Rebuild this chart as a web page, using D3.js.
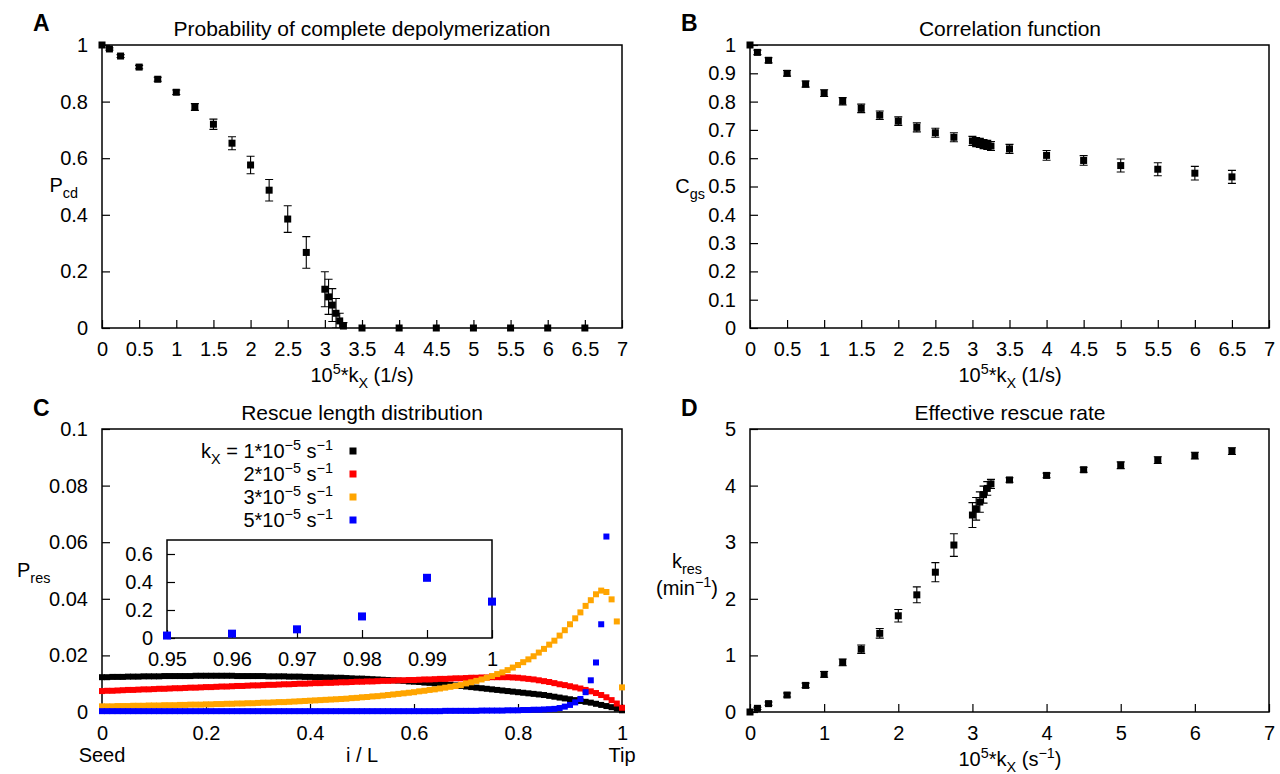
<!DOCTYPE html>
<html>
<head>
<meta charset="utf-8">
<script src="https://cdn.jsdelivr.net/npm/d3@7"></script>
<style>
  html, body { margin: 0; padding: 0; background: #fff; }
  svg { display: block; }
</style>
</head>
<body>
<svg id="fig" width="1280" height="774"></svg>
<script>
// ---------- data ----------
// rate constant k_X in units of 1e-5 1/s
const kX = [0, 0.1, 0.25, 0.5, 0.75, 1, 1.25, 1.5, 1.75, 2, 2.25, 2.5, 2.75,
            3, 3.05, 3.1, 3.15, 3.2, 3.25, 3.5, 4, 4.5, 5, 5.5, 6, 6.5];

// probability of complete depolymerization
const pCd    = [1.000, 0.986, 0.961, 0.922, 0.879, 0.833, 0.781, 0.720, 0.653, 0.576, 0.487, 0.385, 0.267,
                0.137, 0.110, 0.081, 0.052, 0.025, 0.007, 0, 0, 0, 0, 0, 0, 0];
const pCdErr = [0, 0.004, 0.005, 0.006, 0.007, 0.008, 0.012, 0.018, 0.023, 0.031, 0.038, 0.047, 0.056,
                0.062, 0.062, 0.058, 0.052, 0.027, 0.012, 0, 0, 0, 0, 0, 0, 0];

// correlation function
const cGs    = [1.000, 0.974, 0.946, 0.900, 0.862, 0.830, 0.801, 0.776, 0.752, 0.731, 0.709, 0.690, 0.674,
                0.661, 0.657, 0.654, 0.650, 0.647, 0.643, 0.633, 0.610, 0.592, 0.574, 0.561, 0.547, 0.534];
const cGsErr = [0, 0.008, 0.009, 0.010, 0.011, 0.012, 0.013, 0.015, 0.015, 0.015, 0.016, 0.016, 0.016,
                0.016, 0.016, 0.016, 0.016, 0.016, 0.016, 0.016, 0.017, 0.017, 0.023, 0.023, 0.024, 0.023];

// effective rescue rate (1/min)
const kRes    = [0, 0.065, 0.148, 0.30, 0.47, 0.665, 0.877, 1.11, 1.39, 1.70, 2.07, 2.47, 2.95,
                 3.48, 3.59, 3.71, 3.84, 3.95, 4.03, 4.10, 4.18, 4.28, 4.36, 4.45, 4.53, 4.61];
const kResErr = [0, 0.02, 0.03, 0.035, 0.04, 0.05, 0.06, 0.075, 0.085, 0.11, 0.14, 0.17, 0.20,
                 0.22, 0.20, 0.18, 0.15, 0.12, 0.08, 0.04, 0.04, 0.045, 0.06, 0.06, 0.06, 0.06];

// rescue position along the lattice, i / L, in 100 bins
const relPos = d3.range(101).map(i => i / 100);

const presK1 = [
  0.0123,0.0123,0.0124,0.0124,0.0124,0.0125,0.0125,0.0125,0.0126,0.0126,
  0.0126,0.0126,0.0127,0.0127,0.0127,0.0127,0.0127,0.0127,0.0128,0.0128,
  0.0128,0.0128,0.0128,0.0128,0.0128,0.0128,0.0127,0.0127,0.0127,0.0127,
  0.0127,0.0127,0.0126,0.0126,0.0126,0.0126,0.0125,0.0125,0.0125,0.0124,
  0.0124,0.0123,0.0123,0.0122,0.0122,0.0121,0.0121,0.0120,0.0119,0.0118,
  0.0118,0.0117,0.0116,0.0115,0.0114,0.0113,0.0112,0.0111,0.0110,0.0108,
  0.0107,0.0106,0.0104,0.0103,0.0101,0.0100,0.0098,0.0096,0.0094,0.0092,
  0.0090,0.0088,0.0086,0.0084,0.0082,0.0080,0.0078,0.0076,0.0074,0.0072,
  0.0070,0.0068,0.0066,0.0064,0.0062,0.0060,0.0057,0.0054,0.0051,0.0048,
  0.0045,0.0042,0.0039,0.0036,0.0033,0.0029,0.0025,0.0021,0.0017,0.0012,
  0.0006];
const presK2 = [
  0.0074,0.0075,0.0075,0.0076,0.0077,0.0078,0.0078,0.0079,0.0080,0.0080,
  0.0081,0.0082,0.0082,0.0083,0.0084,0.0084,0.0085,0.0086,0.0086,0.0087,
  0.0088,0.0088,0.0089,0.0090,0.0090,0.0091,0.0092,0.0092,0.0093,0.0094,
  0.0094,0.0095,0.0096,0.0096,0.0097,0.0098,0.0098,0.0099,0.0100,0.0100,
  0.0101,0.0102,0.0102,0.0103,0.0103,0.0104,0.0105,0.0105,0.0106,0.0107,
  0.0107,0.0108,0.0108,0.0109,0.0110,0.0110,0.0111,0.0112,0.0112,0.0113,
  0.0113,0.0114,0.0115,0.0115,0.0116,0.0117,0.0117,0.0118,0.0119,0.0119,
  0.0120,0.0121,0.0121,0.0122,0.0122,0.0123,0.0123,0.0123,0.0123,0.0122,
  0.0121,0.0119,0.0117,0.0115,0.0112,0.0109,0.0106,0.0102,0.0098,0.0095,
  0.0091,0.0087,0.0083,0.0078,0.0073,0.0067,0.0060,0.0052,0.0042,0.0030,
  0.0015];
const presK3 = [
  0.0020,0.0020,0.0020,0.0021,0.0021,0.0021,0.0022,0.0022,0.0022,0.0023,
  0.0023,0.0023,0.0024,0.0024,0.0024,0.0025,0.0025,0.0026,0.0026,0.0026,
  0.0027,0.0027,0.0028,0.0028,0.0029,0.0029,0.0030,0.0030,0.0031,0.0031,
  0.0032,0.0033,0.0033,0.0034,0.0035,0.0035,0.0036,0.0037,0.0038,0.0039,
  0.0040,0.0041,0.0042,0.0043,0.0044,0.0045,0.0046,0.0047,0.0049,0.0050,
  0.0052,0.0053,0.0055,0.0056,0.0058,0.0060,0.0062,0.0064,0.0066,0.0068,
  0.0070,0.0073,0.0075,0.0078,0.0080,0.0083,0.0086,0.0089,0.0092,0.0095,
  0.0101,0.0105,0.0110,0.0115,0.0121,0.0127,0.0134,0.0140,0.0148,0.0157,
  0.0166,0.0176,0.0186,0.0197,0.0210,0.0223,0.0238,0.0252,0.0270,0.0289,
  0.0310,0.0331,0.0352,0.0375,0.0395,0.0416,0.0429,0.0424,0.0398,0.0320,
  0.0087];
const presK5 = [
  0.0003,0.0003,0.0003,0.0003,0.0003,0.0003,0.0003,0.0003,0.0003,0.0003,
  0.0003,0.0003,0.0003,0.0003,0.0003,0.0003,0.0003,0.0003,0.0003,0.0003,
  0.0003,0.0003,0.0003,0.0003,0.0003,0.0003,0.0003,0.0003,0.0003,0.0003,
  0.0003,0.0003,0.0003,0.0003,0.0003,0.0003,0.0003,0.0003,0.0003,0.0003,
  0.0003,0.0003,0.0003,0.0003,0.0003,0.0003,0.0003,0.0003,0.0003,0.0003,
  0.0003,0.0003,0.0003,0.0003,0.0003,0.0003,0.0003,0.0003,0.0003,0.0003,
  0.0003,0.0003,0.0003,0.0003,0.0003,0.0003,0.0004,0.0004,0.0004,0.0004,
  0.0004,0.0004,0.0004,0.0005,0.0005,0.0005,0.0005,0.0005,0.0006,0.0006,
  0.0006,0.0007,0.0007,0.0008,0.0008,0.0009,0.0010,0.0011,0.0014,0.0019,
  0.0025,0.0034,0.0046,0.0070,0.0112,0.0175,0.0310,0.0620,0.1540,0.4300,
  0.2600];

const seriesNames  = ["1", "2", "3", "5"];
const seriesColors = ["#000000", "#ff0000", "#ffa500", "#0000ff"];

// tick values and labels
const kTicksHalf  = [0, 0.5, 1, 1.5, 2, 2.5, 3, 3.5, 4, 4.5, 5, 5.5, 6, 6.5, 7];
const kLabelsHalf = ["0","0.5","1","1.5","2","2.5","3","3.5","4","4.5","5","5.5","6","6.5","7"];
const kTicksInt   = [0, 1, 2, 3, 4, 5, 6, 7];
const kLabelsInt  = ["0","1","2","3","4","5","6","7"];
const pCdTicks    = [0, 0.2, 0.4, 0.6, 0.8, 1];
const pCdLabels   = ["0","0.2","0.4","0.6","0.8","1"];
const cGsTicks    = [0, 0.1, 0.2, 0.3, 0.4, 0.5, 0.6, 0.7, 0.8, 0.9, 1];
const cGsLabels   = ["0","0.1","0.2","0.3","0.4","0.5","0.6","0.7","0.8","0.9","1"];
const posTicks    = [0, 0.2, 0.4, 0.6, 0.8, 1];
const posLabels   = ["0","0.2","0.4","0.6","0.8","1"];
const presTicks   = [0, 0.02, 0.04, 0.06, 0.08, 0.1];
const presLabels  = ["0","0.02","0.04","0.06","0.08","0.1"];
const insetXTicks  = [0.95, 0.96, 0.97, 0.98, 0.99, 1];
const insetXLabels = ["0.95","0.96","0.97","0.98","0.99","1"];
const insetYTicks  = [0, 0.2, 0.4, 0.6];
const insetYLabels = ["0","0.2","0.4","0.6"];
const kResTicks   = [0, 1, 2, 3, 4, 5];
const kResLabels  = ["0","1","2","3","4","5"];

// ---------- drawing ----------
const FAMILY = "'Liberation Sans', Arial, Helvetica, sans-serif";
const FS = 20;
const svg = d3.select("#fig").attr("font-family", FAMILY);

const boxA = {l: 102, r: 622,  t: 45,  b: 328};
const boxB = {l: 750, r: 1269, t: 45,  b: 328};
const boxC = {l: 102, r: 622,  t: 429, b: 712};
const boxD = {l: 750, r: 1269, t: 429, b: 712};
const boxI = {l: 167, r: 492,  t: 540, b: 638};

let clipId = 0;
function clipFor(box) {
  const id = "clip" + (clipId++);
  svg.append("clipPath").attr("id", id).append("rect")
    .attr("x", box.l).attr("y", box.t)
    .attr("width", box.r - box.l).attr("height", box.b - box.t);
  return "url(#" + id + ")";
}

function drawAxes(box, xs, ys, xt, xl, yt, yl, fill) {
  if (fill) {
    svg.append("rect").attr("x", box.l).attr("y", box.t)
      .attr("width", box.r - box.l).attr("height", box.b - box.t)
      .attr("fill", "#fff");
  }
  const gx = svg.append("g").attr("transform", `translate(0,${box.b})`)
    .call(d3.axisBottom(xs).tickValues(xt).tickFormat((d, i) => xl[i])
      .tickSizeInner(-8).tickSizeOuter(0).tickPadding(14));
  const gy = svg.append("g").attr("transform", `translate(${box.l},0)`)
    .call(d3.axisLeft(ys).tickValues(yt).tickFormat((d, i) => yl[i])
      .tickSizeInner(-8).tickSizeOuter(0).tickPadding(14));
  [gx, gy].forEach(g => {
    g.attr("font-size", FS).attr("font-family", FAMILY);
    g.select(".domain").remove();
    g.selectAll(".tick line").attr("stroke", "#000").attr("stroke-width", 1.2);
    g.selectAll(".tick text").attr("fill", "#000");
  });
  svg.append("rect").attr("x", box.l).attr("y", box.t)
    .attr("width", box.r - box.l).attr("height", box.b - box.t)
    .attr("fill", "none").attr("stroke", "#000").attr("stroke-width", 1.5);
}

// text with sub/superscript parts: [[string, "n"|"sub"|"sup"], ...]
function rich(x, y, parts, anchor, size) {
  size = size || FS;
  const t = svg.append("text").attr("x", x).attr("y", y)
    .attr("text-anchor", anchor || "start").attr("font-size", size).attr("fill", "#000");
  let off = 0;
  parts.forEach(([s, kind]) => {
    const target = kind === "sub" ? 0.28 * size : kind === "sup" ? -0.4 * size : 0;
    t.append("tspan").attr("dy", target - off)
      .attr("font-size", kind === "n" ? size : size * 0.72).text(s);
    off = target;
  });
  return t;
}

function plain(x, y, s, anchor, size, weight) {
  return svg.append("text").attr("x", x).attr("y", y)
    .attr("text-anchor", anchor || "start").attr("font-size", size || FS)
    .attr("font-weight", weight || "normal").attr("fill", "#000").text(s);
}

function errorSeries(box, xs, ys, xv, yv, ev) {
  const g = svg.append("g").attr("clip-path", clipFor(box))
    .attr("stroke", "#000").attr("stroke-width", 1.1).attr("fill", "none");
  const pts = xv.map((x, i) => ({x, y: yv[i], e: ev[i]})).filter(d => d.e > 0);
  const cap = 4;
  g.selectAll("path").data(pts).join("path")
    .attr("d", d => {
      const px = xs(d.x), lo = ys(d.y - d.e), hi = ys(d.y + d.e);
      return `M${px},${lo}V${hi}M${px - cap},${hi}H${px + cap}M${px - cap},${lo}H${px + cap}`;
    });
}

function squares(xs, ys, xv, yv, size, color, keep) {
  const pts = xv.map((x, i) => ({x, y: yv[i]})).filter(keep || (() => true));
  svg.append("g").attr("fill", color).selectAll("rect").data(pts).join("rect")
    .attr("x", d => xs(d.x) - size / 2).attr("y", d => ys(d.y) - size / 2)
    .attr("width", size).attr("height", size);
}

// ---- Panel A ----
{
  const xs = d3.scaleLinear().domain([0, 7]).range([boxA.l, boxA.r]);
  const ys = d3.scaleLinear().domain([0, 1]).range([boxA.b, boxA.t]);
  drawAxes(boxA, xs, ys, kTicksHalf, kLabelsHalf, pCdTicks, pCdLabels);
  errorSeries(boxA, xs, ys, kX, pCd, pCdErr);
  squares(xs, ys, kX, pCd, 7, "#000");
  plain(362, 36, "Probability of complete depolymerization", "middle", 21);
  plain(33, 31, "A", "start", 23, "bold");
  rich(362, 382, [["10","n"],["5","sup"],["*k","n"],["X","sub"],[" (1/s)","n"]], "middle");
  rich(78, 192, [["P","n"],["cd","sub"]], "end");
}

// ---- Panel B ----
{
  const xs = d3.scaleLinear().domain([0, 7]).range([boxB.l, boxB.r]);
  const ys = d3.scaleLinear().domain([0, 1]).range([boxB.b, boxB.t]);
  drawAxes(boxB, xs, ys, kTicksHalf, kLabelsHalf, cGsTicks, cGsLabels);
  errorSeries(boxB, xs, ys, kX, cGs, cGsErr);
  squares(xs, ys, kX, cGs, 7, "#000");
  plain(1010, 36, "Correlation function", "middle", 21);
  plain(681, 31, "B", "start", 23, "bold");
  rich(1010, 382, [["10","n"],["5","sup"],["*k","n"],["X","sub"],[" (1/s)","n"]], "middle");
  rich(705, 193, [["C","n"],["gs","sub"]], "end");
}

// ---- Panel C ----
{
  const xs = d3.scaleLinear().domain([0, 1]).range([boxC.l, boxC.r]);
  const ys = d3.scaleLinear().domain([0, 0.1]).range([boxC.b, boxC.t]);
  drawAxes(boxC, xs, ys, posTicks, posLabels, presTicks, presLabels);
  const series = [presK1, presK2, presK3, presK5];
  series.forEach((s, k) => squares(xs, ys, relPos, s, 6, seriesColors[k], d => d.y <= 0.1));
  plain(362, 420, "Rescue length distribution", "middle", 21);
  plain(33, 416, "C", "start", 23, "bold");
  plain(boxC.l, 762, "Seed", "middle");
  plain(362, 762, "i / L", "middle");
  plain(boxC.r, 762, "Tip", "middle");
  rich(17, 577, [["P","n"],["res","sub"]], "start");

  // legend
  const rowY = [451, 474, 497, 520];
  seriesNames.forEach((n, k) => {
    const parts = k === 0
      ? [["k","n"],["X","sub"],[" = " + n + "*10","n"],["\u22125","sup"],[" s","n"],["\u22121","sup"]]
      : [[n + "*10","n"],["\u22125","sup"],[" s","n"],["\u22121","sup"]];
    rich(333, rowY[k] + 7, parts, "end");
    svg.append("rect").attr("x", 353 - 3.5).attr("y", rowY[k] - 3.5)
      .attr("width", 7).attr("height", 7).attr("fill", seriesColors[k]);
  });

  // inset: tip region of the k_X = 5e-5 distribution
  const ixs = d3.scaleLinear().domain([0.95, 1]).range([boxI.l, boxI.r]);
  const iys = d3.scaleLinear().domain([0, 0.7]).range([boxI.b, boxI.t]);
  drawAxes(boxI, ixs, iys, insetXTicks, insetXLabels, insetYTicks, insetYLabels, true);
  squares(ixs, iys, relPos, presK5, 8, seriesColors[3], d => d.x >= 0.95 - 1e-9);
}

// ---- Panel D ----
{
  const xs = d3.scaleLinear().domain([0, 7]).range([boxD.l, boxD.r]);
  const ys = d3.scaleLinear().domain([0, 5]).range([boxD.b, boxD.t]);
  drawAxes(boxD, xs, ys, kTicksInt, kLabelsInt, kResTicks, kResLabels);
  errorSeries(boxD, xs, ys, kX, kRes, kResErr);
  squares(xs, ys, kX, kRes, 7, "#000");
  plain(1010, 420, "Effective rescue rate", "middle", 21);
  plain(681, 416, "D", "start", 23, "bold");
  rich(1010, 766, [["10","n"],["5","sup"],["*k","n"],["X","sub"],[" (s","n"],["\u22121","sup"],[")","n"]], "middle");
  rich(687, 568, [["k","n"],["res","sub"]], "middle");
  rich(687, 595, [["(min","n"],["\u22121","sup"],[")","n"]], "middle");
}
</script>
</body>
</html>
